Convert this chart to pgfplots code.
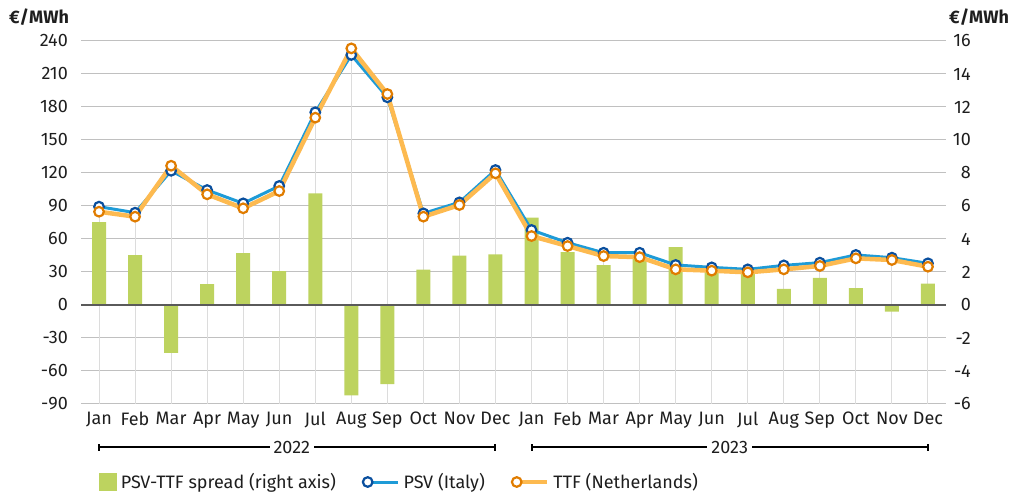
\documentclass[border=0pt]{standalone}
\usepackage{pgfplots}
\pgfplotsset{compat=1.18}
\usepackage{pgfplotstable}
\usepackage{fontspec}
\setmainfont{Fira Sans}
\definecolor{barcol}{HTML}{BDD35F}
\definecolor{psvline}{HTML}{1E9BD7}
\definecolor{psvmark}{HTML}{0A4F9E}
\definecolor{ttfline}{HTML}{FDBA50}
\definecolor{ttfmark}{HTML}{E07C00}
\definecolor{gridgray}{HTML}{C0C0C0}
\definecolor{dropgray}{HTML}{DCDCDC}
\definecolor{zerogray}{HTML}{5A5A5A}
\definecolor{txt}{HTML}{1E1E1E}

\pgfplotstableread{
x psv ttf top spread
0 89.4 84.8 89.4 5.03
1 83.9 80.3 83.9 3.03
2 122.0 126.6 126.6 -2.9
3 104.5 100.6 104.5 1.27
4 92.4 87.9 92.4 3.15
5 108.2 103.6 108.2 2.06
6 175.2 170.3 175.2 6.77
7 227.3 233.3 233.3 -5.47
8 188.8 191.8 191.8 -4.8
9 83.3 80.3 83.3 2.14
10 93.3 90.9 93.3 2.99
11 122.7 119.7 122.7 3.07
12 68.2 62.7 68.2 5.3
13 56.6 53.6 56.6 3.2
14 47.5 44.5 47.5 2.42
15 47.5 43.5 47.5 2.8
16 36.4 32.4 36.4 3.5
17 34.2 31.2 34.2 2.2
18 32.4 29.7 32.4 1.9
19 36.0 32.4 36.0 0.97
20 38.5 35.5 38.5 1.64
21 45.5 42.4 45.5 1.03
22 43.0 40.9 43.0 -0.4
23 37.9 34.8 37.9 1.29
}\data

\newcommand{\fs}{\fontsize{18}{21}\selectfont}
\pgfplotsset{
  base/.style={
    at={(81pt,91pt)}, anchor=south west,
    scale only axis, width=865pt, height=363pt,
    xmin=-0.5, xmax=23.5,
    axis line style={draw=none},
    major tick length=0pt,
    tick label style={font=\fs, text=txt},
    /pgf/number format/assume math mode=true,
  },
  linelegend/.style={legend image code/.code={\draw[##1, mark indices={1}] plot coordinates {(0pt,0pt) (30pt,0pt)};}},
  barlegend/.style={legend image code/.code={\fill[barcol] (0pt,-8.5pt) rectangle (17pt,8.5pt);}},
}

\begin{document}
\begin{tikzpicture}[font=\fs, text=txt]
\useasboundingbox (0,0) rectangle (1013pt,495pt);

% axis 1: left axis, grid, drop lines, x labels
\begin{axis}[base,
  ymin=-90, ymax=240, ytick={-90,-60,...,240},
  ymajorgrids, grid style={color=gridgray, line width=1pt},
  yticklabel style={anchor=east, inner sep=0pt, xshift=-13pt},
  xtick={0,...,23},
  xticklabels={Jan,Feb,Mar,Apr,May,Jun,Jul,Aug,Sep,Oct,Nov,Dec,Jan,Feb,Mar,Apr,May,Jun,Jul,Aug,Sep,Oct,Nov,Dec},
  xticklabel style={anchor=north, inner sep=0pt, yshift=-8pt},
  clip=false,
]
\addplot[only marks, mark=none,
  error bars/.cd, y dir=minus, y explicit, error mark=none,
  error bar style={color=dropgray, line width=1pt}]
  table[x=x, y=top, y error expr=\thisrow{top}+90] {\data};
% year brackets
\draw[line width=1.1pt] (axis cs:0,-129.1) -- (axis cs:11,-129.1);
\draw[line width=2pt] (axis cs:0,-129.1) ++(0pt,-3.5pt) -- ++(0pt,7pt);
\draw[line width=2pt] (axis cs:11,-129.1) ++(0pt,-3.5pt) -- ++(0pt,7pt);
\node[fill=white, inner xsep=4pt, inner ysep=1pt] at (axis cs:5.35,-129.1) {2022};
\draw[line width=1.1pt] (axis cs:12,-129.1) -- (axis cs:23,-129.1);
\draw[line width=2pt] (axis cs:12,-129.1) ++(0pt,-3.5pt) -- ++(0pt,7pt);
\draw[line width=2pt] (axis cs:23,-129.1) ++(0pt,-3.5pt) -- ++(0pt,7pt);
\node[fill=white, inner xsep=4pt, inner ysep=1pt] at (axis cs:17.5,-129.1) {2023};
\end{axis}

% axis 2: right axis with spread bars
\begin{axis}[base,
  ymin=-6, ymax=16, ytick={-6,-4,...,16},
  yticklabel pos=right,
  yticklabel style={anchor=east, inner sep=0pt, xshift=25pt},
  xtick=\empty,
]
\addplot[ybar, bar width=14pt, fill=barcol, draw=none] table[x=x, y=spread] {\data};
\draw[color=zerogray, line width=1.6pt] (axis cs:-0.5,0) -- (axis cs:23.5,0);
\end{axis}

% axis 3: left axis with PSV and TTF lines
\begin{axis}[base,
  ymin=-90, ymax=240, ytick=\empty, xtick=\empty,
  legend style={at={(0.0208,-0.2149)}, anchor=west, draw=none, fill=none,
    inner sep=0pt, outer sep=0pt, font=\fs,
    nodes={inner sep=0pt, anchor=west, text=txt},
    /tikz/every odd column/.append style={column sep=4.5pt},
    /tikz/every even column/.append style={column sep=27pt}},
  legend columns=3,
  legend cell align=left,
]
\addlegendimage{barlegend}
\addplot[color=psvline, line width=3pt, mark=*, mark size=4.8pt,
  mark options={draw=psvmark, fill=white, line width=2.2pt}, linelegend]
  table[x=x, y=psv] {\data};
\addplot[color=ttfline, line width=4.5pt, mark=*, mark size=4.8pt,
  mark options={draw=ttfmark, fill=white, line width=2.2pt}, linelegend]
  table[x=x, y=ttf] {\data};
\legend{PSV-TTF spread (right axis), PSV (Italy), TTF (Netherlands)}
\end{axis}

\node[font=\bfseries\fs] at (39pt,478pt) {€/MWh};
\node[font=\bfseries\fs] at (979pt,478pt) {€/MWh};
\end{tikzpicture}
\end{document}
